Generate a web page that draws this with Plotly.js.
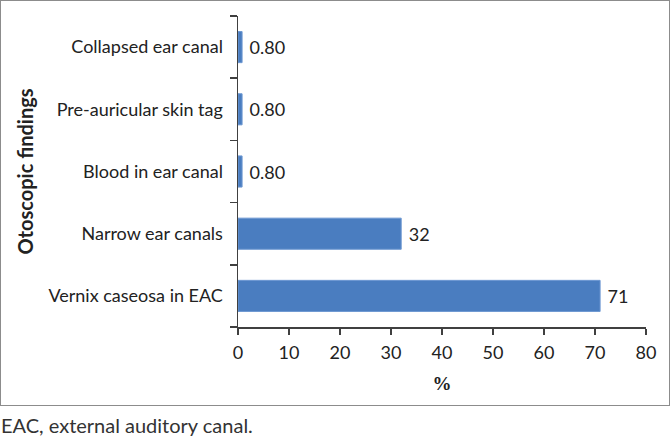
<!DOCTYPE html>
<html>
<head>
<meta charset="utf-8">
<script src="https://cdn.plot.ly/plotly-3.0.1.min.js"></script>
<style>
  body { margin: 0; background: #fff; }
  #frame { position: absolute; left: 0; top: 0; width: 670px; height: 406px; border: 1.5px solid #8c8c8c; box-sizing: border-box; }
  #chart { position: absolute; left: 0; top: 0; width: 670px; height: 406px; }
  #note { position: absolute; left: 1px; top: 413px; font-family: Lato, "Open Sans", sans-serif; font-size: 20px; color: #333; }
</style>
</head>
<body>
<div id="chart"></div>
<div id="frame"></div>
<div id="note">EAC, external auditory canal.</div>
<script>
// findings from bottom to top
const findings = ['Vernix caseosa in EAC', 'Narrow ear canals', 'Blood in ear canal', 'Pre-auricular skin tag', 'Collapsed ear canal'];
const percents = [71, 32, 0.8, 0.8, 0.8];
const value_labels = ['71', '32', '0.80', '0.80', '0.80'];
const x_ticks = [0, 10, 20, 30, 40, 50, 60, 70, 80];

const font_family = 'Lato, "Open Sans", sans-serif';

const bars = {
  type: 'bar',
  orientation: 'h',
  x: percents,
  y: findings,
  text: value_labels,
  texttemplate: '\u2009\u2009%{text}',
  textposition: 'outside',
  cliponaxis: false,
  textfont: {family: font_family, size: 18, color: '#222'},
  marker: {color: '#4a7dc0', line: {color: '#6d98d2', width: 1}},
  hoverinfo: 'none',
};

const layout = {
  width: 670,
  height: 406,
  margin: {l: 238, r: 24, t: 16, b: 79},
  paper_bgcolor: '#fff',
  plot_bgcolor: '#fff',
  bargap: 0.5,
  showlegend: false,
  font: {family: font_family, size: 18, color: '#222'},
  xaxis: {
    range: [0, 80],
    tickvals: x_ticks,
    ticktext: x_ticks.map(String),
    showgrid: false,
    zeroline: false,
    showline: true,
    linecolor: '#404040',
    linewidth: 1.5,
    ticks: 'outside',
    ticklen: 6,
    tickcolor: '#404040',
    tickwidth: 1.5,
    ticklabelstandoff: 3,
    tickfont: {family: font_family, size: 18, color: '#222'},
    title: {text: '<b>%</b>', font: {family: '"Liberation Serif", serif', size: 19, color: '#222'}, standoff: 14},
  },
  yaxis: {
    type: 'category',
    categoryorder: 'array',
    categoryarray: findings,
    showgrid: false,
    showline: true,
    linecolor: '#404040',
    linewidth: 1.5,
    ticks: 'outside',
    tickson: 'boundaries',
    ticklen: 7,
    tickcolor: '#404040',
    tickwidth: 1.5,
    ticklabelstandoff: 10,
    tickfont: {family: font_family, size: 18, color: '#222'},
    title: {text: '<b>Otoscopic findings</b>', font: {family: font_family, size: 20, color: '#222'}, standoff: 9},
  },
};

Plotly.newPlot('chart', [bars], layout, {displayModeBar: false, staticPlot: true});
</script>
</body>
</html>
